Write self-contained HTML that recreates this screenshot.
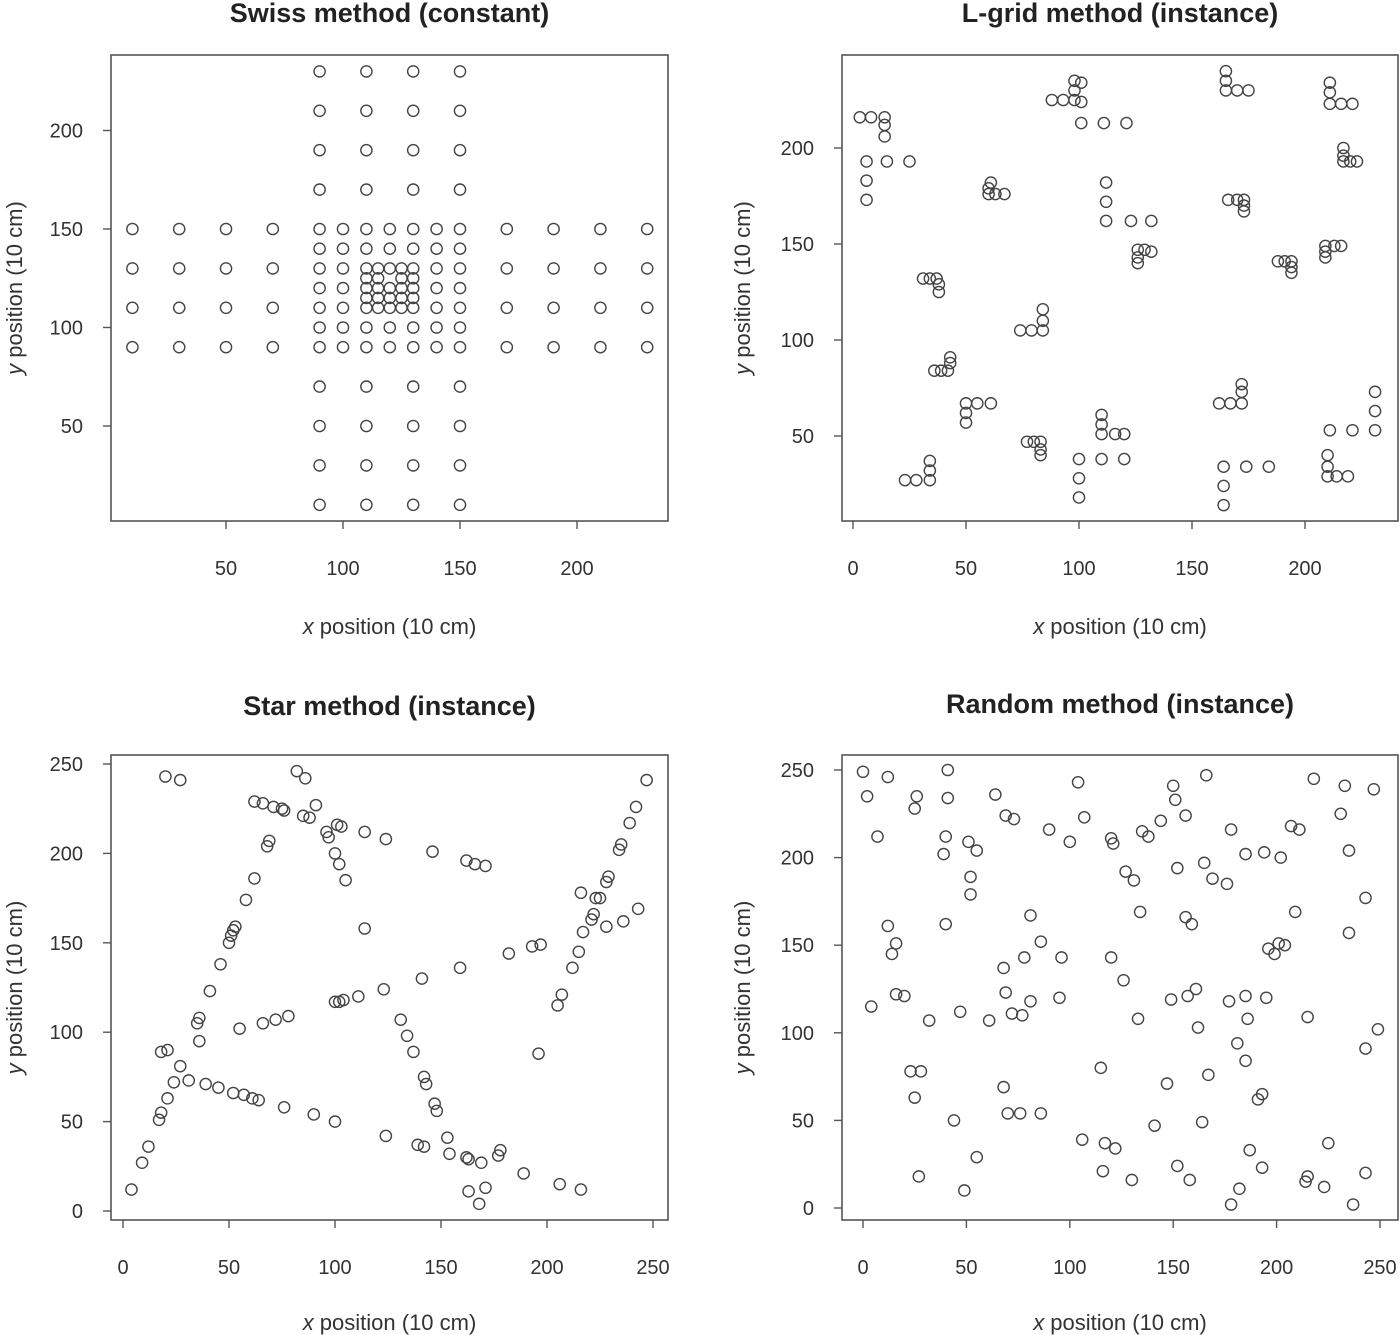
<!DOCTYPE html>
<html><head><meta charset="utf-8"><style>
html,body{margin:0;padding:0;background:#fff;}
svg{display:block;font-family:"Liberation Sans",sans-serif;}
.tick{font-size:20px;fill:#333;}
.title{font-size:27px;font-weight:bold;fill:#222;}
.alab{font-size:22px;fill:#333;}
</style></head><body>
<svg id="chart" width="1400" height="1335" viewBox="0 0 1400 1335" xmlns="http://www.w3.org/2000/svg"></svg>
<script>
// Swiss grid blocks (design layout, data units)
const swissBlocksX = [[10,30,50,70],[170,190,210,230],[90,110,130,150],[90,110,130,150],[90,100,110,120,130,140,150],[115,125]];
const swissBlocksY = [[90,110,130,150],[90,110,130,150],[10,30,50,70],[170,190,210,230],[90,100,110,120,130,140,150],[110,115,120,125,130]];
const swissExtraX = [110,120,130,110,130];
const swissExtraY = [115,115,115,125,125];

const lgridX = [3,8,14,14,14, 6,6,6,15,25, 61,60,60,63,67, 31,34,37,38,38, 74,79,84,84,84, 36,39,42,43,43, 50,55,61,50,50, 23,28,34,34,34, 77,80,83,83,83,
 88,93,98,98,98,101,101,101,111,121, 112,112,112,123,132, 100,100,100, 110,110,110,116,120,110,120,
 126,129,132,126,126, 165,165,165,170,175, 211,211,211,216,221, 217,217,217,220,223, 166,170,173,173,173, 188,191,194,194,194,
 209,213,216,209,209, 162,167,172,172,172, 231,231,231,211,221, 164,164,164,174,184, 210,210,210,214,219];
const lgridY = [216,216,216,212,206, 193,183,173,193,193, 182,179,176,176,176, 132,132,132,129,125, 105,105,105,110,116, 84,84,84,88,91, 67,67,67,62,57, 27,27,27,32,37, 47,47,47,43,40,
 225,225,225,230,235,234,224,213,213,213, 182,172,162,162,162, 38,28,18, 61,56,51,51,51,38,38,
 147,147,146,143,140, 240,235,230,230,230, 234,229,223,223,223, 200,196,193,193,193, 173,173,173,170,167, 141,141,141,138,135,
 149,149,149,146,143, 67,67,67,73,77, 73,63,53,53,53, 34,24,14,34,34, 40,34,29,29,29];

const starX = [20,27,82,86,62,66,71,75,76,85,88,91,96,97,101,103,114,124,69,68,100,102,105,62,58,53,52,51,50,46,114,41,123,111,104,102,100,36,35,36,55,66,72,78,18,21,27,24,31,39,45,52,57,61,64,76,90,100,124,21,18,17,12,9,4,
 247,242,239,235,234,229,228,216,223,225,222,221,217,228,236,243,215,212,207,205,196,193,197,182,159,141,146,162,166,171,131,134,137,142,143,147,148,153,139,142,154,162,163,169,177,178,189,206,216,163,171,168];
const starY = [243,241,246,242,229,228,226,225,224,221,220,227,212,209,216,215,212,208,207,204,200,194,185,186,174,159,157,154,150,138,158,123,124,120,118,117,117,108,105,95,102,105,107,109,89,90,81,72,73,71,69,66,65,63,62,58,54,50,42,63,55,51,36,27,12,
 241,226,217,205,202,187,184,178,175,175,166,163,156,159,162,169,145,136,121,115,88,148,149,144,136,130,201,196,194,193,107,98,89,75,71,60,56,41,37,36,32,30,29,27,31,34,21,15,12,11,13,4];

const randX = [0,12,41,2,26,41,25,104,64,69,73,107,7,40,39,51,55,90,100,120,121,52,52,12,40,16,14,78,81,86,96,120,68,16,20,69,81,95,4,32,47,61,72,77,23,28,25,68,70,76,86,115,44,106,117,122,55,116,27,49,
 166,150,151,218,233,247,231,144,156,135,138,178,207,211,235,185,194,202,127,131,152,165,169,176,243,134,156,159,209,235,196,201,204,199,126,161,157,149,177,185,195,133,186,162,215,249,243,181,185,167,147,193,191,164,141,187,225,152,193,130,158,182,178,215,214,223,243,237];
const randY = [249,246,250,235,235,234,228,243,236,224,222,223,212,212,202,209,204,216,209,211,208,189,179,161,162,151,145,143,167,152,143,143,137,122,121,123,118,120,115,107,112,107,111,110,78,78,63,69,54,54,54,80,50,39,37,34,29,21,18,10,
 247,241,233,245,241,239,225,221,224,215,212,216,218,216,204,202,203,200,192,187,194,197,188,185,177,169,166,162,169,157,148,151,150,145,130,125,121,119,118,121,120,108,108,103,109,102,91,94,84,76,71,65,62,49,47,33,37,24,23,16,16,11,2,18,15,12,20,2];

const xTicks1 = [50,100,150,200], yTicks1 = [50,100,150,200];
const xTicks2 = [0,50,100,150,200], yTicks2 = [50,100,150,200];
const xTicks3 = [0,50,100,150,200,250], yTicks3 = [0,50,100,150,200,250];

const NS = "http://www.w3.org/2000/svg";
const svg = document.getElementById('chart');
function el(tag, attrs, parent){const e=document.createElementNS(NS,tag);for(const k in attrs)e.setAttribute(k,attrs[k]);(parent||svg).appendChild(e);return e;}

function panel(cfg){
  const g = el('g',{});
  
  
  const sx = v => cfg.x0 + cfg.kx*v, sy = v => cfg.y0 - cfg.ky*v;
  const box = el('rect',{x:cfg.L,y:cfg.T,width:cfg.R-cfg.L,height:cfg.B-cfg.T,fill:'none',stroke:'#555','stroke-width':1.6},g);
  
  
  const t = el('text',{x:(cfg.L+cfg.R)/2,y:cfg.titleY,'text-anchor':'middle',class:'title'},g);
  t.textContent = cfg.title;
  
  
  cfg.xt.forEach(v=>{
    el('line',{x1:sx(v),x2:sx(v),y1:cfg.B,y2:cfg.B+8,stroke:'#555','stroke-width':1.4},g);
    const tx = el('text',{x:sx(v),y:cfg.xLabY,'text-anchor':'middle',class:'tick'},g);
    tx.textContent = v;
    
    
  });
  cfg.yt.forEach(v=>{
    el('line',{x1:cfg.L-8,x2:cfg.L,y1:sy(v),y2:sy(v),stroke:'#555','stroke-width':1.4},g);
    const ty = el('text',{x:cfg.L-28,y:sy(v)+7,'text-anchor':'end',class:'tick'},g);
    ty.textContent = v;
    
    
  });
  const xl = el('text',{x:(cfg.L+cfg.R)/2,y:cfg.xTitleY,'text-anchor':'middle',class:'alab'},g);
  xl.innerHTML = '<tspan font-style="italic">x</tspan>  position (10 cm)';
  
  
  const yc = (cfg.T+cfg.B)/2;
  const yl = el('text',{x:cfg.yTitleX,y:yc,'text-anchor':'middle',class:'alab',transform:`rotate(-90 ${cfg.yTitleX} ${yc})`},g);
  yl.innerHTML = '<tspan font-style="italic">y</tspan>  position (10 cm)';
  
  
  for(let i=0;i<cfg.px.length;i++){
    const c = el('circle',{cx:sx(cfg.px[i]),cy:sy(cfg.py[i]),r:5.6,fill:'none',stroke:'#444','stroke-width':1.4},g);
    
    
  }
}

const swissX=[], swissY=[];
swissBlocksX.forEach((bx,i)=>{bx.forEach(x=>swissBlocksY[i].forEach(y=>{swissX.push(x);swissY.push(y);}));});
swissExtraX.forEach((x,i)=>{swissX.push(x);swissY.push(swissExtraY[i]);});

panel({name:'swiss-panel',title:'Swiss method (constant)',L:111,R:668,T:55,B:521,x0:109,kx:2.34,y0:524.5,ky:1.97,
  xt:xTicks1,yt:yTicks1,xLabY:575,xTitleY:634,yTitleX:22,titleY:22,px:swissX,py:swissY});
panel({name:'lgrid-panel',title:'L-grid method (instance)',L:842,R:1398,T:55,B:521,x0:853,kx:2.26,y0:532,ky:1.92,
  xt:xTicks2,yt:yTicks2,xLabY:575,xTitleY:634,yTitleX:750,titleY:22,px:lgridX,py:lgridY});
panel({name:'star-panel',title:'Star method (instance)',L:111,R:668,T:755,B:1220,x0:123,kx:2.12,y0:1211,ky:1.788,
  xt:xTicks3,yt:yTicks3,xLabY:1274,xTitleY:1330,yTitleX:22,titleY:715,px:starX,py:starY});
panel({name:'random-panel',title:'Random method (instance)',L:842,R:1398,T:755,B:1220,x0:863,kx:2.068,y0:1208,ky:1.752,
  xt:xTicks3,yt:yTicks3,xLabY:1274,xTitleY:1330,yTitleX:750,titleY:713,px:randX,py:randY});
</script>
</body></html>
